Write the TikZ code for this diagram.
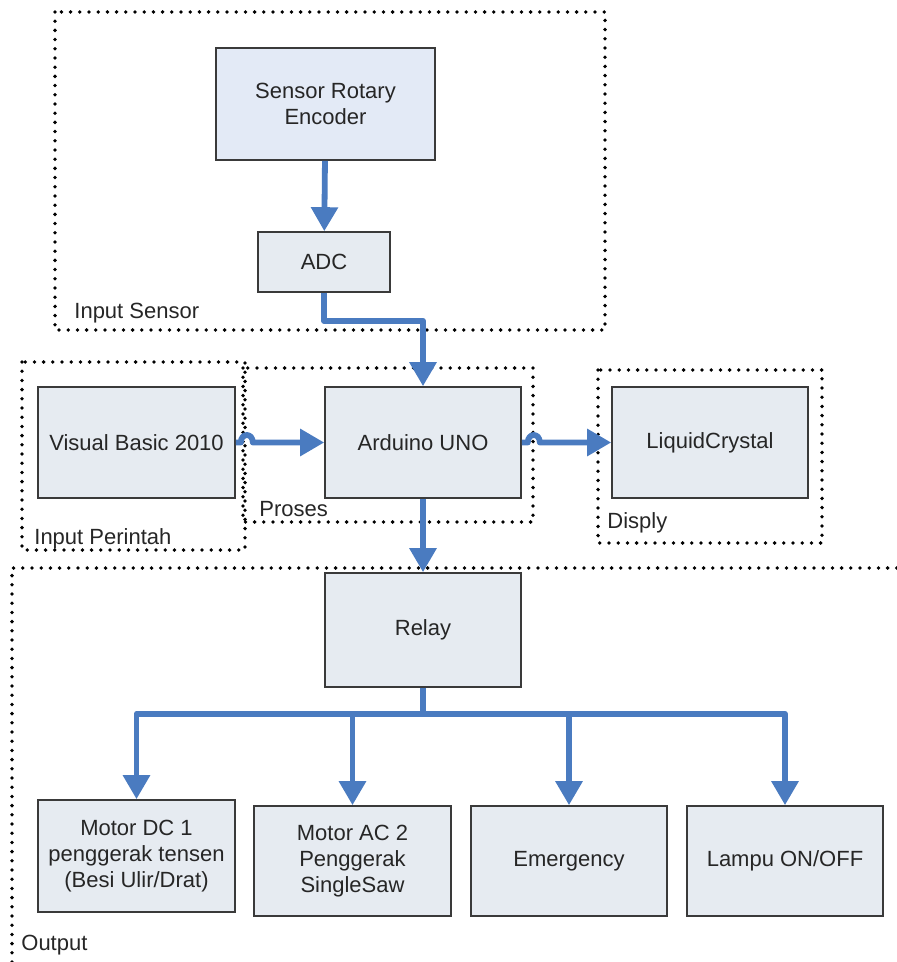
\documentclass[tikz,border=0pt]{standalone}
\usepackage{fontspec}
\setmainfont{Liberation Sans}
\usetikzlibrary{arrows.meta}
\definecolor{EncFill}{HTML}{E3EAF6}
\definecolor{BoxFill}{HTML}{E6EBF1}
\definecolor{FlowBlue}{HTML}{4A7BC0}
\definecolor{BoxLine}{HTML}{3A3A3A}
\tikzstyle{blockBox}=[draw=BoxLine,fill=BoxFill,line width=0.8pt,align=center,inner sep=1pt]
\tikzstyle{groupFrame}=[line width=1.9pt, line cap=round, dash pattern=on 0pt off 4.6pt]
\tikzstyle{groupLabel}=[anchor=west, inner sep=0pt]
\tikzstyle{flowArrow}=[-{Triangle[width=13pt,length=12pt]}, draw=FlowBlue, line width=2.9pt, line join=round]

\begin{document}
\begin{tikzpicture}[x=0.5pt,y=-0.5pt,font=\fontsize{11}{12.8}\selectfont,text=black!85]
    \useasboundingbox (0,0) rectangle (897,962);

    % Group frames
    \draw[groupFrame] (55,12) rectangle (605,330);
    \draw[groupFrame] (22,362) rectangle (245,550);
    \draw[groupFrame] (243,368) rectangle (533,522);
    \draw[groupFrame] (598,370) rectangle (822,543);
    \draw[groupFrame] (12,962) -- (12,568) -- (897,568);

    \node[groupLabel] (lblSensor) at (74,313) {Input Sensor};
    \node[groupLabel] (lblPerintah) at (34,539) {Input Perintah};
    \node[groupLabel] (lblProses) at (259,509) {Proses};
    \node[groupLabel] (lblDisplay) at (607,523) {Disply};
    \node[groupLabel] (lblOutput) at (21,945) {Output};

    % Input sensor
    \node[blockBox,fill=EncFill,minimum width=109.5pt,minimum height=56pt] (enc) at (325.5,104) {Sensor Rotary\\Encoder};
    \node[blockBox,minimum width=66pt,minimum height=30pt] (adc) at (324,262) {ADC};
    \draw[flowArrow] (enc) -- (adc);

    % Proses row
    \node[blockBox,minimum width=98.5pt,minimum height=55.5pt] (vb) at (136.5,442.5) {Visual Basic 2010};
    \node[blockBox,minimum width=98pt,minimum height=55.5pt] (ard) at (423,442.5) {Arduino UNO};
    \node[blockBox,minimum width=98pt,minimum height=55.5pt] (lcd) at (710,442.5) {LiquidCrystal};
    \draw[flowArrow] (adc.south) -- ++(0,28) -| (ard.north);
    \draw[flowArrow] (vb.east) -- ++(5,0) .. controls +(0,-10) and +(0,-10) .. ++(12,0) -- (ard.west);
    \draw[flowArrow] (ard.east) -- ++(6,0) .. controls +(0,-10) and +(0,-10) .. ++(12,0) -- (lcd.west);

    % Output
    \node[blockBox,minimum width=98pt,minimum height=57pt] (relay) at (423,630) {Relay};
    \draw[flowArrow] (ard) -- (relay);
    \node[blockBox,minimum width=98.5pt,minimum height=56pt] (mdc) at (136.5,856) {Motor DC 1\\penggerak tensen\\(Besi Ulir/Drat)};
    \node[blockBox,minimum width=98.5pt,minimum height=55pt] (mac) at (352.5,861) {Motor AC 2\\Penggerak\\SingleSaw};
    \node[blockBox,minimum width=98pt,minimum height=55pt] (emg) at (569,861) {Emergency};
    \node[blockBox,minimum width=98pt,minimum height=55pt] (lmp) at (785,861) {Lampu ON/OFF};
    \foreach \out in {mdc,mac,emg,lmp}
        \draw[flowArrow] (relay.south) -- ++(0,26) -| (\out.north);

\end{tikzpicture}
\end{document}
